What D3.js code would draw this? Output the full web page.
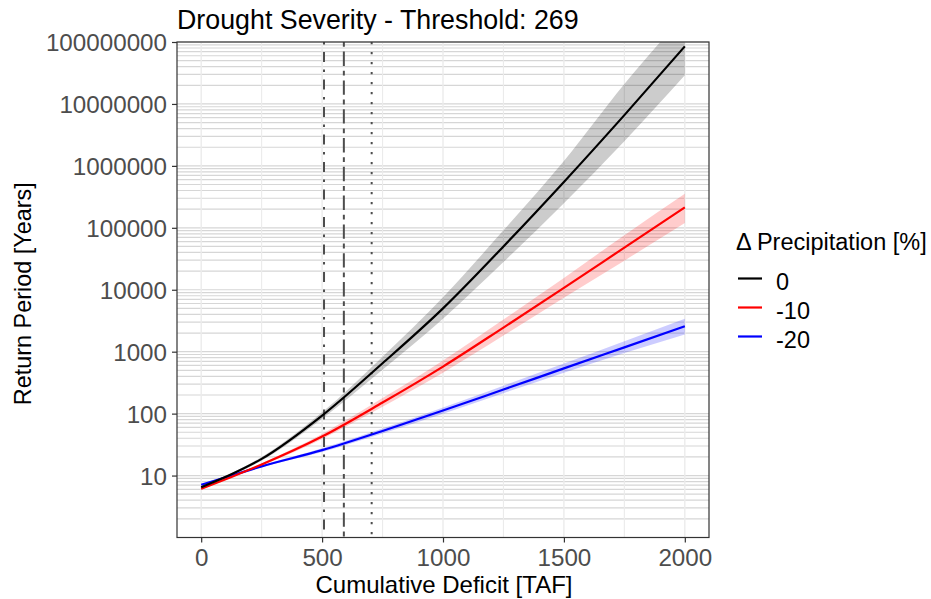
<!DOCTYPE html>
<html>
<head>
<meta charset="utf-8">
<script src="https://cdn.jsdelivr.net/npm/d3@7"></script>
<style>
  html, body { margin: 0; padding: 0; background: #fff; }
  svg { display: block; font-family: "Liberation Sans", Arial, sans-serif; }
</style>
</head>
<body>
<svg id="chart" width="931" height="599"></svg>
<script>
// ---- data ----
const deficit = [0, 125, 250, 500, 750, 1000, 1250, 1500, 1750, 2000];
const seriesNames = ["0", "-10", "-20"];
const seriesColors = ["#000000", "#ff0000", "#0000ff"];
const fillColors = ["#000000", "#ff0000", "#0000ff"];
// Return period (central estimate)
const rp0   = [6.5, 10.5, 18.6, 93, 650, 5000, 50000, 550000, 6600000, 85000000];
const rp10  = [6.1, 9.5, 15.1, 42.7, 151, 575, 2450, 10700, 47900, 214000];
const rp20  = [7.1, 10.0, 14.1, 25.7, 52.5, 112, 245, 537, 1175, 2570];
// Confidence bands
const lo0   = [6.2, 10.0, 17.4, 83, 513, 3400, 28000, 250000, 2500000, 29000000];
const hi0   = [6.8, 11.0, 20.0, 105, 832, 7600, 91000, 1200000, 21000000, 280000000];
const lo10  = [5.9, 9.3, 14.5, 39, 129, 457, 1820, 7400, 29500, 120000];
const hi10  = [6.3, 9.8, 15.8, 47, 178, 724, 3310, 15500, 76000, 355000];
const lo20  = [6.9, 9.7, 13.6, 24, 47.9, 100, 214, 457, 955, 1900];
const hi20  = [7.3, 10.3, 14.6, 27.5, 57.5, 126, 282, 646, 1480, 3400];
// Reference lines
const vlineValues = [508, 590, 705];
const vlineTypes = ["dotdash", "twodash", "dotted"];
// Axis ticks
const xTicks = [0, 500, 1000, 1500, 2000];
const xMinor = [250, 750, 1250, 1750];
const yTicks = [10, 100, 1000, 10000, 100000, 1000000, 10000000, 100000000];
const titleText = "Drought Severity - Threshold: 269";
const xTitle = "Cumulative Deficit [TAF]";
const yTitle = "Return Period [Years]";
const legendTitle = "\u0394 Precipitation [%]";

const centers = [rp0, rp10, rp20];
const lows = [lo0, lo10, lo20];
const highs = [hi0, hi10, hi20];

// ---- layout ----
const svg = d3.select("#chart");
const P = { left: 177, right: 709, top: 42, bottom: 537.5 };
const x = d3.scaleLinear().domain([-100, 2100]).range([P.left, P.right]);
const y = d3.scaleLog().domain([1, 1e8]).range([P.bottom, P.top]);

const dashes = {
  dotdash: "2.5,7.5,10,7.5",
  twodash: "4.8,4.8,14.4,4.8",
  dotted: "2.2,7.8"
};

svg.append("defs").append("clipPath").attr("id", "clip")
  .append("rect").attr("x", P.left).attr("y", P.top)
  .attr("width", P.right - P.left).attr("height", P.bottom - P.top);

const panel = svg.append("g");
panel.append("rect").attr("x", P.left).attr("y", P.top)
  .attr("width", P.right - P.left).attr("height", P.bottom - P.top)
  .attr("fill", "#fff");

// minor horizontal grid (1..9 x 10^k)
const hGrid = [];
for (let k = 0; k <= 7; k++) for (let m = 1; m <= 9; m++) hGrid.push(m * Math.pow(10, k));
hGrid.push(1e8);
panel.selectAll("line.hg").data(hGrid).enter().append("line")
  .attr("x1", P.left).attr("x2", P.right)
  .attr("y1", d => y(d)).attr("y2", d => y(d))
  .attr("stroke", "#d6d6d6").attr("stroke-width", 1.2);

panel.selectAll("line.vm").data(xMinor).enter().append("line")
  .attr("x1", d => x(d)).attr("x2", d => x(d))
  .attr("y1", P.top).attr("y2", P.bottom)
  .attr("stroke", "#ebebeb").attr("stroke-width", 1.1);
panel.selectAll("line.vg").data(xTicks).enter().append("line")
  .attr("x1", d => x(d)).attr("x2", d => x(d))
  .attr("y1", P.top).attr("y2", P.bottom)
  .attr("stroke", "#ebebeb").attr("stroke-width", 1.4);

const plot = svg.append("g").attr("clip-path", "url(#clip)");

// ribbons
const area = (lo, hi) => d3.area()
  .x((d, i) => x(deficit[i]))
  .y0((d, i) => y(lo[i]))
  .y1((d, i) => y(hi[i]))
  .curve(d3.curveMonotoneX)(deficit);
[2, 1, 0].forEach(s => {
  plot.append("path").attr("d", area(lows[s], highs[s]))
    .attr("fill", fillColors[s]).attr("fill-opacity", 0.2);
});

// reference lines
plot.selectAll("line.vl").data(vlineValues).enter().append("line")
  .attr("x1", d => x(d)).attr("x2", d => x(d))
  .attr("y1", P.top).attr("y2", P.bottom)
  .attr("stroke", "#4d4d4d").attr("stroke-width", 2)
  .attr("stroke-dasharray", (d, i) => dashes[vlineTypes[i]]);

// lines
const line = vals => d3.line()
  .x((d, i) => x(deficit[i]))
  .y((d, i) => y(vals[i]))
  .curve(d3.curveMonotoneX)(deficit);
[2, 1, 0].forEach(s => {
  plot.append("path").attr("d", line(centers[s]))
    .attr("fill", "none").attr("stroke", seriesColors[s])
    .attr("stroke-width", 2.2);
});

// panel border
svg.append("rect").attr("x", P.left).attr("y", P.top)
  .attr("width", P.right - P.left).attr("height", P.bottom - P.top)
  .attr("fill", "none").attr("stroke", "#333333").attr("stroke-width", 1.2);

// axes
const fs = "24.2px";
const xAxis = svg.append("g").attr("transform", `translate(0,${P.bottom})`)
  .call(d3.axisBottom(x).tickValues(xTicks).tickSize(5).tickPadding(6).tickFormat(d3.format("d")));
const yAxis = svg.append("g").attr("transform", `translate(${P.left},0)`)
  .call(d3.axisLeft(y).tickValues(yTicks).tickSize(5).tickPadding(5).tickFormat(d3.format("d")));
[xAxis, yAxis].forEach(a => {
  a.select(".domain").remove();
  a.selectAll(".tick line").attr("stroke", "#333333").attr("stroke-width", 1.2);
  a.selectAll(".tick text").attr("fill", "#4d4d4d")
    .style("font-size", fs).style("font-family", "'Liberation Sans', Arial, sans-serif");
});
yAxis.selectAll(".tick text").attr("dy", "0.36em");

// titles
svg.append("text").attr("x", P.left).attr("y", 29)
  .attr("fill", "#000").style("font-size", "26.8px").text(titleText);
svg.append("text").attr("x", (P.left + P.right) / 2 + 1).attr("y", 593)
  .attr("text-anchor", "middle").attr("fill", "#000").style("font-size", "24px").text(xTitle);
svg.append("text")
  .attr("transform", `translate(31,${(P.top + P.bottom) / 2 + 4}) rotate(-90)`)
  .attr("text-anchor", "middle").attr("fill", "#000").style("font-size", "23.4px").text(yTitle);

// legend
const lg = svg.append("g");
lg.append("text").attr("x", 736).attr("y", 250).attr("fill", "#000")
  .style("font-size", "23.5px").text(legendTitle);
seriesNames.forEach((name, i) => {
  const cy = 278.5 + i * 29;
  lg.append("line").attr("x1", 738).attr("x2", 762).attr("y1", cy).attr("y2", cy)
    .attr("stroke", seriesColors[i]).attr("stroke-width", 2.2);
  lg.append("text").attr("x", 776).attr("y", cy + 11).attr("fill", "#000")
    .style("font-size", "23.5px").text(name);
});
</script>
</body>
</html>
